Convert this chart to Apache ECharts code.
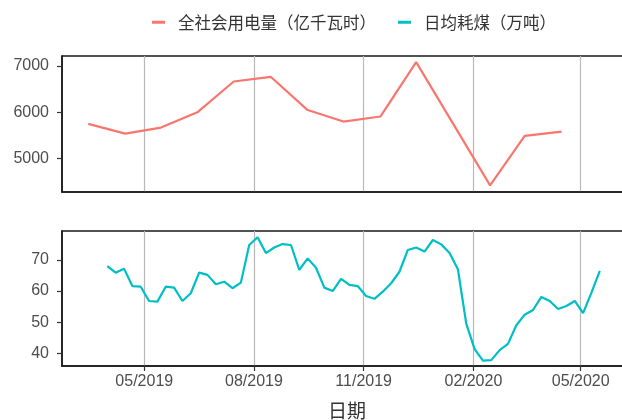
<!DOCTYPE html>
<html>
<head>
<meta charset="utf-8">
<script src="https://cdn.jsdelivr.net/npm/echarts@6/dist/echarts.min.js"></script>
<style>html,body{margin:0;padding:0;background:#fff;}#c{width:622px;height:420px;}</style>
</head>
<body>
<div id="c"></div>
<script>
// ---- data ----
const elecDates = ['2019-03-15','2019-04-15','2019-05-15','2019-06-15','2019-07-15','2019-08-15','2019-09-15','2019-10-15','2019-11-15','2019-12-15','2020-02-15','2020-03-15','2020-04-15'];
const elecValues = [5746, 5535, 5665, 6005, 6665, 6767, 6045, 5796, 5905, 7085, 4413, 5485, 5578];

const coalStart = '2019-03-31'; // weekly observations
const coalValues = [68.0, 65.9, 67.2, 61.6, 61.4, 56.8, 56.6, 61.4, 61.1, 56.8,
                    59.3, 65.9, 65.2, 62.2, 63.0, 60.9, 62.7, 74.8, 77.3, 72.2,
                    74.0, 75.1, 74.8, 66.8, 70.5, 67.5, 61.1, 60.0, 63.9, 62.0,
                    61.6, 58.4, 57.5, 59.8, 62.5, 66.2, 73.2, 74.0, 72.7, 76.4,
                    75.0, 72.2, 67.0, 49.5, 41.3, 37.6, 37.8, 41.0, 43.0, 49.0,
                    52.4, 53.9, 58.1, 56.8, 54.2, 55.2, 56.8, 52.9, 59.5, 66.5];

const xTickDates = ['2019-05-01','2019-08-01','2019-11-01','2020-02-01','2020-05-01'];
const xTickLabels = ['05/2019','08/2019','11/2019','02/2020','05/2020'];
const elecTicks = [5000, 6000, 7000];
const coalTicks = [40, 50, 60, 70];

const seriesNames = ['全社会用电量（亿千瓦时）', '日均耗煤（万吨）'];
const xTitle = '日期';

// ---- build ----
function ts(s){ const p = s.split('-').map(Number); return Date.UTC(p[0], p[1]-1, p[2]); }
const DAY = 86400000;
const coalStartTs = ts(coalStart);
const coalData = coalValues.map((v,i)=>[coalStartTs + i*7*DAY, v]);
const elecData = elecDates.map((d,i)=>[ts(d), elecValues[i]]);
const xTickTs = xTickDates.map(ts);

const xMin = ts('2019-02-21'), xMax = ts('2020-06-13');
const col1 = '#F8766D', col2 = '#00BFC4';
const gridBase = {left:62, width:570, outerBoundsMode:'none', containLabel:false,
  show:true, borderColor:'#1a1a1a', borderWidth:1.5, backgroundColor:'#fff'};

function xAxisCfg(idx, showLabels){
  return {
    type:'value', gridIndex:idx, min:xMin, max:xMax, scale:true,
    axisLine:{show:true, lineStyle:{color:'#1a1a1a', width:1.5}},
    axisTick:{show:showLabels, length:5, customValues:xTickTs, lineStyle:{color:'#333', width:1.2}},
    axisLabel:{show:showLabels, customValues:xTickTs, margin:8, color:'#4d4d4d', fontSize:16, fontFamily:'Liberation Sans, Arial',
      formatter:function(v){ const i = xTickTs.indexOf(v); return i>=0 ? xTickLabels[i] : ''; }},
    splitLine:{show:true, lineStyle:{color:'#b8b8b8', width:1.2}},
    name: showLabels ? xTitle : '', nameLocation:'middle', nameGap:35,
    nameTextStyle:{fontSize:19, color:'#333', fontFamily:'Noto Sans CJK SC'}
  };
}
function yAxisCfg(idx, min, max, ticks){
  return {
    type:'value', gridIndex:idx, min:min, max:max,
    axisLine:{show:true, lineStyle:{color:'#1a1a1a', width:1.5}},
    axisTick:{show:true, length:5, customValues:ticks, lineStyle:{color:'#333', width:1.2}},
    axisLabel:{customValues:ticks, margin:13, color:'#4d4d4d', fontSize:16, fontFamily:'Liberation Sans, Arial',
      formatter:function(v){ return String(v); }},
    splitLine:{show:false}
  };
}

const chart = echarts.init(document.getElementById('c'), null, {renderer:'canvas'});
chart.setOption({
  animation:false,
  backgroundColor:'#fff',
  legend:{
    left:147, top:9, itemWidth:13, itemHeight:3, itemGap:22, icon:'rect',
    textStyle:{fontSize:16.5, color:'#333', fontFamily:'Noto Sans CJK SC', padding:[0,0,0,8]},
    data:[{name:seriesNames[0], itemStyle:{color:col1}}, {name:seriesNames[1], itemStyle:{color:col2}}]
  },
  grid:[
    Object.assign({top:56, height:136}, gridBase),
    Object.assign({top:231, height:135}, gridBase)
  ],
  xAxis:[xAxisCfg(0,false), xAxisCfg(1,true)],
  yAxis:[yAxisCfg(0, 4268, 7218, elecTicks), yAxisCfg(1, 35.9, 79.3, coalTicks)],
  series:[
    {name:seriesNames[0], type:'line', xAxisIndex:0, yAxisIndex:0, data:elecData, showSymbol:false, color:col1,
      lineStyle:{width:2.2, color:col1}},
    {name:seriesNames[1], type:'line', xAxisIndex:1, yAxisIndex:1, data:coalData, showSymbol:false, color:col2,
      lineStyle:{width:2.2, color:col2}}
  ]
});
</script>
</body>
</html>
